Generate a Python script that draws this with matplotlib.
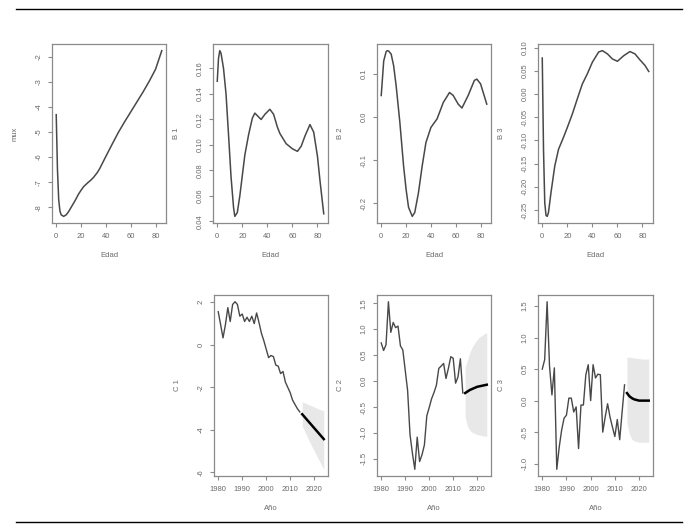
import matplotlib
matplotlib.use("Agg")
import matplotlib.pyplot as plt
from matplotlib.ticker import MultipleLocator, FormatStrFormatter
from matplotlib.lines import Line2D

plt.rcParams['font.family'] = ['Liberation Sans', 'DejaVu Sans']
plt.rcParams['axes.unicode_minus'] = False

# ---- Age profiles ----
ages = [0, 1, 2, 3, 4, 6, 8, 10, 12, 15, 18, 20, 22, 25, 28, 30, 33, 35, 40, 45, 50, 55, 60, 65,
        70, 75, 80, 85]
mux = [-4.31, -6.5, -7.7, -8.15, -8.3, -8.36, -8.3, -8.17, -8.0, -7.75, -7.47, -7.32, -7.18,
       -7.04, -6.91, -6.81, -6.62, -6.46, -5.97, -5.49, -5.02, -4.6, -4.2, -3.8, -3.4, -2.97,
       -2.5, -1.76]

ages_b = [0, 1, 2, 3, 5, 7, 9, 11, 13, 14, 16, 18, 20, 22, 25, 28, 30, 32, 35, 38, 42, 45, 48, 50,
          55, 60, 64, 67, 70, 74, 77, 80, 82, 85]
b1 = [0.150, 0.168, 0.174, 0.172, 0.160, 0.140, 0.108, 0.075, 0.051, 0.044, 0.047, 0.060, 0.076,
      0.092, 0.108, 0.121, 0.125, 0.123, 0.120, 0.124, 0.128, 0.124, 0.114, 0.109, 0.101, 0.097,
      0.095, 0.099, 0.107, 0.116, 0.110, 0.091, 0.072, 0.046]

ages2 = [0, 2, 4, 5, 6, 8, 10, 12, 15, 18, 20, 22, 25, 27, 30, 33, 36, 40, 45, 50, 55, 58, 62, 65,
         70, 75, 77, 80, 85]
b2 = [0.050, 0.130, 0.152, 0.154, 0.153, 0.146, 0.119, 0.073, -0.012, -0.113, -0.167, -0.209,
      -0.230, -0.221, -0.175, -0.113, -0.059, -0.024, -0.004, 0.034, 0.057, 0.050, 0.030, 0.021,
      0.050, 0.085, 0.088, 0.077, 0.030]

ages3 = [0, 1, 2, 3, 4, 5, 7, 10, 13, 17, 20, 24, 28, 32, 36, 40, 45, 48, 52, 56, 60, 65, 70, 74,
         78, 82, 85]
b3 = [0.078, -0.12, -0.235, -0.262, -0.264, -0.255, -0.212, -0.155, -0.119, -0.093, -0.072,
      -0.043, -0.010, 0.022, 0.044, 0.069, 0.091, 0.094, 0.087, 0.076, 0.071, 0.083, 0.092, 0.087,
      0.074, 0.062, 0.049]

# ---- Period indices ----
years = list(range(1980, 2015))
years_fc = list(range(2015, 2025))

c1 = [1.56, 0.95, 0.33, 0.95, 1.75, 1.1, 1.9, 2.03, 1.9, 1.35, 1.45, 1.1, 1.3, 1.1, 1.35, 1.0,
      1.5, 1.05, 0.55, 0.2, -0.2, -0.6, -0.5, -0.55, -0.95, -1.0, -1.35, -1.25, -1.75, -2.0,
      -2.25, -2.6, -2.8, -3.0, -3.15]
c1_fc = [-3.26, -3.39, -3.52, -3.65, -3.78, -3.91, -4.04, -4.17, -4.30, -4.43]
c1_hi = [-2.68, -2.72, -2.77, -2.82, -2.87, -2.92, -2.97, -3.02, -3.06, -3.10]
c1_lo = [-3.80, -4.05, -4.30, -4.53, -4.76, -4.98, -5.20, -5.42, -5.64, -5.85]

c2 = [0.735, 0.59, 0.70, 1.53, 0.94, 1.13, 1.03, 1.06, 0.68, 0.60, 0.21, -0.18, -1.03, -1.39,
      -1.70, -1.08, -1.55, -1.42, -1.23, -0.67, -0.51, -0.34, -0.22, -0.08, 0.245, 0.29, 0.34,
      0.05, 0.245, 0.47, 0.44, -0.04, 0.08, 0.43, -0.23]
c2_fc = [-0.23, -0.20, -0.17, -0.15, -0.13, -0.11, -0.10, -0.09, -0.08, -0.07]
c2_hi = [0.27, 0.41, 0.56, 0.66, 0.74, 0.80, 0.85, 0.88, 0.91, 0.93]
c2_lo = [-0.70, -0.88, -0.95, -0.99, -1.01, -1.03, -1.04, -1.05, -1.06, -1.06]

c3 = [0.50, 0.65, 1.57, 0.55, 0.09, 0.52, -1.09, -0.74, -0.47, -0.28, -0.23, 0.04, 0.04, -0.18,
      -0.10, -0.76, -0.07, -0.07, 0.41, 0.57, 0.0, 0.57, 0.36, 0.42, 0.41, -0.50, -0.26, -0.05,
      -0.26, -0.42, -0.57, -0.30, -0.62, -0.18, 0.25]
c3_fc = [0.12, 0.07, 0.04, 0.02, 0.01, 0.0, 0.0, 0.0, 0.0, 0.0]
c3_hi = [0.69, 0.69, 0.68, 0.68, 0.67, 0.67, 0.66, 0.66, 0.66, 0.66]
c3_lo = [-0.36, -0.53, -0.61, -0.64, -0.65, -0.66, -0.66, -0.66, -0.66, -0.66]

W, H = 695, 531
fig = plt.figure(figsize=(W / 100, H / 100), dpi=100)

def rect(x0, y0, x1, y1):
    return [x0 / W, 1 - y1 / H, (x1 - x0) / W, (y1 - y0) / H]

line_col = '#484848'
box_col = '#8a8a8a'
txt_col = '#6a6a6a'

def style(ax, xlabel, ylabel, xstep, ystep, yfmt):
    ax.margins(0.04)
    ax.xaxis.set_major_locator(MultipleLocator(xstep))
    ax.yaxis.set_major_locator(MultipleLocator(ystep))
    ax.yaxis.set_major_formatter(FormatStrFormatter(yfmt))
    for s in ax.spines.values():
        s.set_color(box_col)
        s.set_linewidth(0.9)
    ax.tick_params(axis='both', colors=box_col, labelcolor=txt_col, labelsize=5.5,
                   length=3, width=0.8, pad=4)
    for lab in ax.get_yticklabels():
        lab.set_rotation(90)
        lab.set_va('center')
    ax.set_xlabel(xlabel, fontsize=5.5, color=txt_col, labelpad=9)
    ax.set_ylabel(ylabel, fontsize=5.5, color=txt_col, labelpad=12)

# Top row
ax = fig.add_axes(rect(52, 44, 166, 223))
ax.plot(ages, mux, color=line_col, lw=1.1)
style(ax, 'Edad', 'mux', 20, 1, '%d')

ax = fig.add_axes(rect(213, 44, 328, 223))
ax.plot(ages_b, b1, color=line_col, lw=1.1)
style(ax, 'Edad', 'B 1', 20, 0.02, '%.2f')

ax = fig.add_axes(rect(377, 44, 491, 223))
ax.plot(ages2, b2, color=line_col, lw=1.1)
style(ax, 'Edad', 'B 2', 20, 0.1, '%.1f')

ax = fig.add_axes(rect(538, 44, 653, 223))
ax.plot(ages3, b3, color=line_col, lw=1.1)
style(ax, 'Edad', 'B 3', 20, 0.05, '%.2f')

# Bottom row
def period_panel(pos, obs, fc, lo, hi, ylabel, ystep, yfmt):
    ax = fig.add_axes(rect(*pos))
    ax.fill_between(years_fc, lo, hi, color='#e8e8e8', lw=0)
    ax.plot(years, obs, color=line_col, lw=1.0)
    ax.plot(years_fc, fc, color='black', lw=1.8)
    style(ax, 'Año', ylabel, 10, ystep, yfmt)
    return ax

period_panel((214, 295, 328, 476), c1, c1_fc, c1_lo, c1_hi, 'C 1', 2, '%d')
period_panel((377, 295, 491, 476), c2, c2_fc, c2_lo, c2_hi, 'C 2', 0.5, '%.1f')
period_panel((538, 295, 653, 476), c3, c3_fc, c3_lo, c3_hi, 'C 3', 0.5, '%.1f')

# Horizontal rules
fig.add_artist(Line2D([16 / W, 682 / W], [1 - 9 / H, 1 - 9 / H], color='black', lw=1.0,
                      transform=fig.transFigure))
fig.add_artist(Line2D([16 / W, 682 / W], [1 - 522 / H, 1 - 522 / H], color='black', lw=1.0,
                      transform=fig.transFigure))

fig.savefig('out.png', dpi=100, facecolor='white')
